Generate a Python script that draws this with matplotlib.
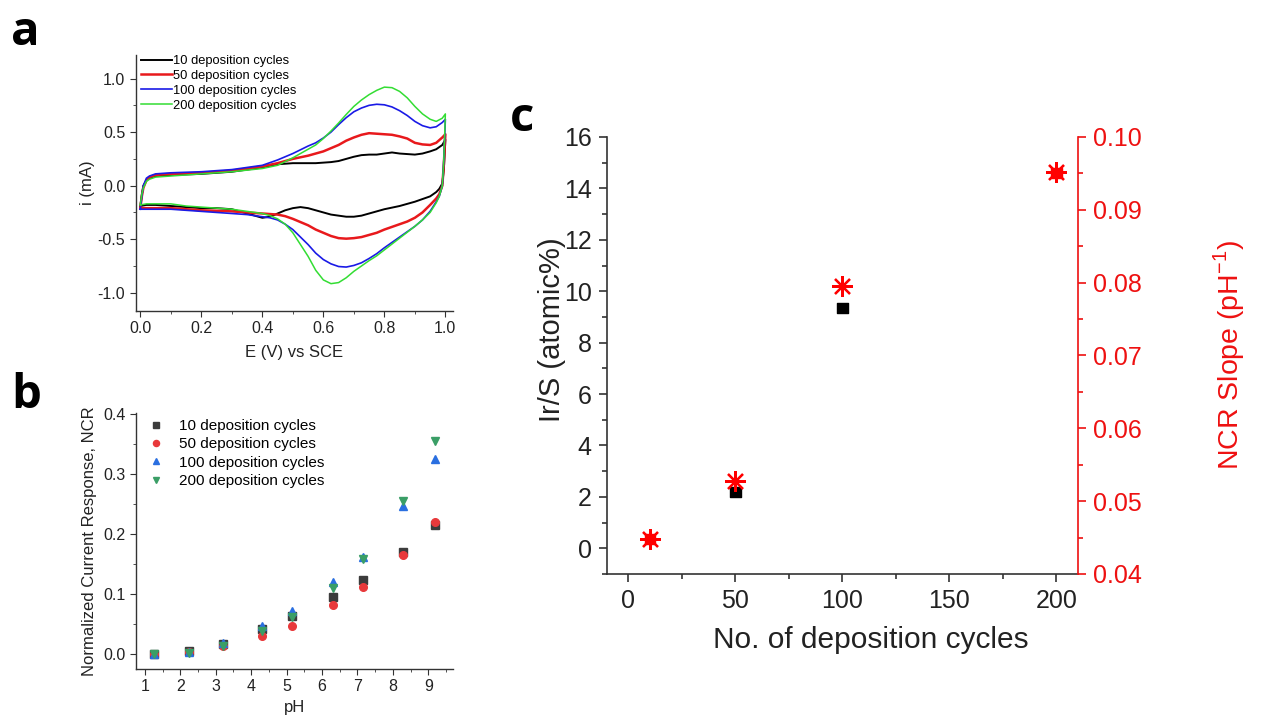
import matplotlib
matplotlib.use('Agg')
import matplotlib.pyplot as plt
from matplotlib.ticker import MultipleLocator

plt.rcParams['font.family'] = ['Liberation Sans', 'DejaVu Sans']
plt.rcParams['axes.unicode_minus'] = False
plt.rcParams['mathtext.fontset'] = 'custom'
plt.rcParams['mathtext.rm'] = 'Liberation Sans'

# ---- panel a: cyclic voltammograms (anodic sweep, then cathodic sweep) ----
e_up = [0.0, 0.005, 0.01, 0.02, 0.03, 0.05, 0.1, 0.15, 0.2, 0.25, 0.3, 0.35, 0.4, 0.45,
        0.5, 0.525, 0.55, 0.575, 0.6, 0.625, 0.65, 0.675, 0.7, 0.725, 0.75, 0.775,
        0.8, 0.825, 0.85, 0.875, 0.9, 0.925, 0.95, 0.97, 0.99, 1.0]
e_down = [1.0, 0.995, 0.99, 0.98, 0.97, 0.95, 0.925, 0.9, 0.875, 0.85, 0.825, 0.8,
          0.775, 0.75, 0.725, 0.7, 0.675, 0.65, 0.625, 0.6, 0.575, 0.55, 0.525, 0.5,
          0.475, 0.45, 0.425, 0.4, 0.35, 0.3, 0.25, 0.2, 0.15, 0.1, 0.05, 0.02, 0.0]

i_up_10 = [-0.19, -0.08, 0.0, 0.05, 0.07, 0.09, 0.10, 0.105, 0.11, 0.12, 0.13, 0.15, 0.17, 0.20,
           0.21, 0.21, 0.21, 0.21, 0.215, 0.22, 0.23, 0.25, 0.27, 0.285, 0.29, 0.29,
           0.30, 0.31, 0.30, 0.295, 0.29, 0.30, 0.32, 0.34, 0.38, 0.43]
i_dn_10 = [0.43, 0.15, 0.02, -0.03, -0.06, -0.10, -0.125, -0.15, -0.17, -0.19, -0.205, -0.22,
           -0.24, -0.26, -0.28, -0.29, -0.29, -0.28, -0.27, -0.25, -0.23, -0.21, -0.20, -0.21,
           -0.23, -0.26, -0.29, -0.30, -0.26, -0.22, -0.21, -0.21, -0.20, -0.19, -0.18, -0.18, -0.19]
i_up_50 = [-0.21, -0.10, -0.02, 0.05, 0.08, 0.10, 0.11, 0.115, 0.12, 0.13, 0.14, 0.16, 0.18, 0.21,
           0.25, 0.265, 0.28, 0.30, 0.32, 0.35, 0.38, 0.42, 0.45, 0.475, 0.49, 0.485,
           0.48, 0.475, 0.46, 0.44, 0.40, 0.385, 0.38, 0.40, 0.45, 0.48]
i_dn_50 = [0.48, 0.20, 0.0, -0.08, -0.12, -0.18, -0.25, -0.30, -0.335, -0.36, -0.385, -0.41,
           -0.44, -0.46, -0.48, -0.49, -0.495, -0.49, -0.47, -0.44, -0.41, -0.37, -0.34, -0.31,
           -0.285, -0.27, -0.265, -0.26, -0.25, -0.24, -0.235, -0.23, -0.22, -0.21, -0.21, -0.21, -0.21]
i_up_100 = [-0.22, -0.10, 0.0, 0.07, 0.09, 0.11, 0.12, 0.125, 0.13, 0.14, 0.15, 0.17, 0.19, 0.24,
            0.30, 0.335, 0.37, 0.40, 0.445, 0.50, 0.57, 0.635, 0.69, 0.725, 0.75, 0.76,
            0.755, 0.735, 0.70, 0.655, 0.60, 0.56, 0.54, 0.55, 0.59, 0.62]
i_dn_100 = [0.62, 0.25, 0.0, -0.10, -0.15, -0.24, -0.32, -0.38, -0.43, -0.48, -0.53, -0.58,
            -0.635, -0.68, -0.72, -0.745, -0.76, -0.755, -0.73, -0.69, -0.63, -0.55, -0.48, -0.41,
            -0.36, -0.32, -0.30, -0.29, -0.27, -0.26, -0.25, -0.24, -0.23, -0.22, -0.22, -0.22, -0.22]
i_up_200 = [-0.18, -0.08, -0.02, 0.04, 0.06, 0.08, 0.09, 0.10, 0.11, 0.12, 0.13, 0.145, 0.16, 0.19,
            0.26, 0.30, 0.34, 0.38, 0.44, 0.51, 0.585, 0.665, 0.74, 0.80, 0.85, 0.89,
            0.92, 0.915, 0.88, 0.82, 0.74, 0.67, 0.62, 0.60, 0.63, 0.67]
i_dn_200 = [0.67, 0.25, 0.0, -0.10, -0.16, -0.25, -0.32, -0.38, -0.435, -0.49, -0.545, -0.60,
            -0.655, -0.70, -0.75, -0.80, -0.86, -0.905, -0.915, -0.88, -0.79, -0.66, -0.55, -0.44,
            -0.36, -0.31, -0.28, -0.26, -0.24, -0.22, -0.21, -0.20, -0.19, -0.17, -0.17, -0.17, -0.18]

cv_labels = ['10 deposition cycles', '50 deposition cycles',
             '100 deposition cycles', '200 deposition cycles']

# ---- panel b: NCR vs pH ----
ph = [1.25, 2.25, 3.2, 4.3, 5.15, 6.3, 7.15, 8.3, 9.2]
ncr_10 = [0.0, 0.005, 0.016, 0.041, 0.064, 0.095, 0.123, 0.171, 0.215]
ncr_50 = [0.0, 0.004, 0.013, 0.030, 0.047, 0.082, 0.112, 0.165, 0.221]
ncr_100 = [0.0, 0.004, 0.019, 0.046, 0.071, 0.120, 0.162, 0.247, 0.326]
ncr_200 = [0.0, 0.002, 0.014, 0.038, 0.061, 0.110, 0.159, 0.256, 0.355]

# ---- panel c: Ir/S and NCR slope vs deposition cycles ----
cycles = [10, 50, 100, 200]
ir_s = [0.35, 2.2, 9.35, 14.6]
ncr_slope = [0.0448, 0.0528, 0.0795, 0.0952]

fig = plt.figure(figsize=(12.65, 7.18), dpi=100)

# panel a
axa = fig.add_axes([0.1073, 0.5669, 0.2508, 0.3565])
cv_colors = ['black', '#e8191c', '#1a1ae6', '#33dd33']
cv_widths = [1.4, 1.8, 1.2, 1.1]
cv_up = [i_up_10, i_up_50, i_up_100, i_up_200]
cv_dn = [i_dn_10, i_dn_50, i_dn_100, i_dn_200]
for iu, idn, col, lw, lab in zip(cv_up, cv_dn, cv_colors, cv_widths, cv_labels):
    axa.plot(e_up + e_down, iu + idn, color=col, lw=lw, label=lab)
axa.set_xlim(-0.015, 1.025)
axa.set_ylim(-1.17, 1.22)
axa.xaxis.set_major_locator(MultipleLocator(0.2))
axa.xaxis.set_minor_locator(MultipleLocator(0.1))
axa.yaxis.set_major_locator(MultipleLocator(0.5))
axa.yaxis.set_minor_locator(MultipleLocator(0.25))
axa.xaxis.set_major_formatter(plt.FormatStrFormatter('%.1f'))
axa.yaxis.set_major_formatter(plt.FormatStrFormatter('%.1f'))
axa.set_xlabel('E (V) vs SCE', fontsize=12, color='#222222', labelpad=6)
axa.set_ylabel('i (mA)', fontsize=12, color='#222222', labelpad=2)
axa.legend(loc='upper left', bbox_to_anchor=(0.0, 1.02), frameon=False, fontsize=9.3,
           handlelength=2.4, handletextpad=0.1, labelspacing=0.22, borderaxespad=0)

# panel b
axb = fig.add_axes([0.1073, 0.0682, 0.2508, 0.3565])
b_series = [ncr_10, ncr_50, ncr_100, ncr_200]
b_markers = ['s', 'o', '^', 'v']
b_colors = ['#3c3c3c', '#e8393b', '#2a6fe0', '#3a9e66']
for ys, mk, col, lab in zip(b_series, b_markers, b_colors, cv_labels):
    axb.plot(ph, ys, ls='none', marker=mk, ms=5.5, color=col, mec=col, label=lab)
axb.set_xlim(0.74, 9.7)
axb.set_ylim(-0.025, 0.402)
axb.xaxis.set_major_locator(MultipleLocator(1))
axb.xaxis.set_minor_locator(MultipleLocator(0.5))
axb.yaxis.set_major_locator(MultipleLocator(0.1))
axb.yaxis.set_minor_locator(MultipleLocator(0.05))
axb.yaxis.set_major_formatter(plt.FormatStrFormatter('%.1f'))
axb.set_xlabel('pH', fontsize=12, color='#222222', labelpad=4)
axb.set_ylabel('Normalized Current Response, NCR', fontsize=12, color='#222222')
axb.legend(loc='upper left', bbox_to_anchor=(0.02, 1.0), frameon=False, fontsize=11,
           handlelength=1.0, handletextpad=1.0, labelspacing=0.28, borderaxespad=0,
           markerscale=0.8)

for ax, fs in ((axa, 11.5), (axb, 11.5)):
    ax.spines['top'].set_visible(False)
    ax.spines['right'].set_visible(False)
    for s in ('left', 'bottom'):
        ax.spines[s].set_color('#333333')
        ax.spines[s].set_linewidth(1.0)
    ax.tick_params(which='both', direction='out', colors='#333333', labelcolor='#222222')
    ax.tick_params(which='major', length=4, labelsize=fs)
    ax.tick_params(which='minor', length=2.5)

# panel c
axc = fig.add_axes([0.4798, 0.2006, 0.3723, 0.6086])
axr = axc.twinx()
sq_colors = ['red', 'black', 'black', 'red']
axc.scatter(cycles, ir_s, marker='s', s=55, c=sq_colors, zorder=2)
axr.plot(cycles, ncr_slope, ls='none', marker=(8, 2, 0), ms=15, mew=1.6, color='red', zorder=3)
axc.set_xlim(-10, 210)
axc.set_ylim(-1, 16)
axr.set_ylim(0.04, 0.10)
axc.xaxis.set_major_locator(MultipleLocator(50))
axc.xaxis.set_minor_locator(MultipleLocator(25))
axc.yaxis.set_major_locator(MultipleLocator(2))
axc.yaxis.set_minor_locator(MultipleLocator(1))
axr.yaxis.set_major_locator(MultipleLocator(0.01))
axr.yaxis.set_minor_locator(MultipleLocator(0.005))
axr.yaxis.set_major_formatter(plt.FormatStrFormatter('%.2f'))
axc.set_xlabel('No. of deposition cycles', fontsize=21.5, color='#222222', labelpad=9)
axc.xaxis.set_label_coords(0.56, -0.12)
axc.set_ylabel('Ir/S (atomic%)', fontsize=21, color='#222222', labelpad=2)
axc.yaxis.set_label_coords(-0.087, 0.56)
axr.set_ylabel(r'NCR Slope (pH$^{\mathregular{-1}}$)', fontsize=20.5, color='#ee1111', labelpad=50)
for ax in (axc, axr):
    ax.spines['top'].set_visible(False)
axc.spines['right'].set_visible(False)
axr.spines['left'].set_visible(False)
axr.spines['bottom'].set_visible(False)
axr.spines['right'].set_color('#ee1111')
axr.spines['right'].set_linewidth(1.2)
for s in ('left', 'bottom'):
    axc.spines[s].set_color('#333333')
    axc.spines[s].set_linewidth(1.2)
axc.tick_params(which='both', direction='out', colors='#333333', labelcolor='#222222')
axc.tick_params(which='major', length=6, width=1.2, labelsize=18, pad=5)
axc.tick_params(which='minor', length=3.5, width=1.2)
axr.tick_params(which='both', direction='out', colors='#ee1111', labelcolor='#ee1111')
axr.tick_params(which='major', length=6, width=1.2, labelsize=18, pad=5)
axr.tick_params(which='minor', length=3.5, width=1.2)

# panel letters
for lab, x, y in (('a', 0.009, 0.937), ('b', 0.009, 0.432), ('c', 0.403, 0.818)):
    fig.text(x, y, lab, fontsize=34, fontweight='bold', family=['Open Sans', 'DejaVu Sans'])

fig.savefig('out.png', dpi=100)
